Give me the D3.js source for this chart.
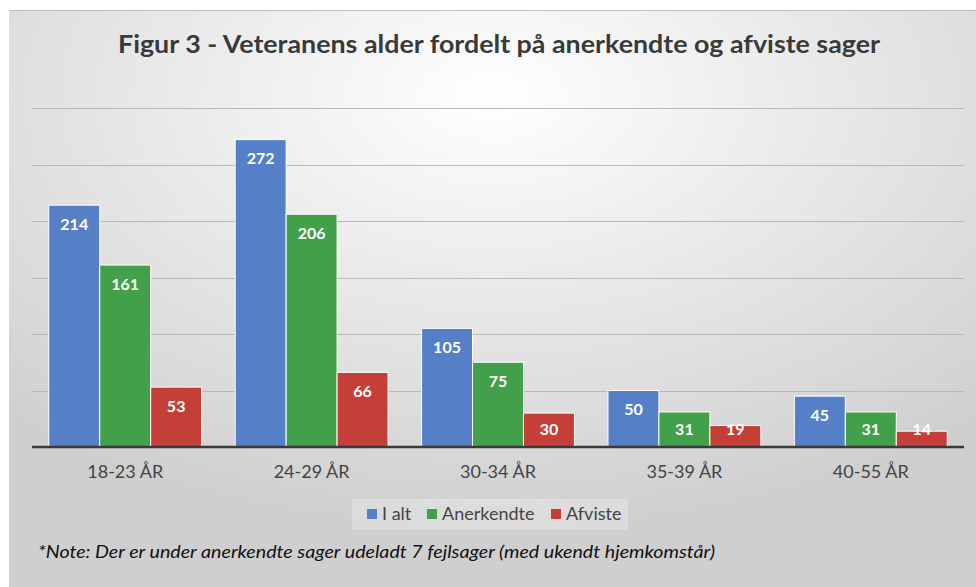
<!DOCTYPE html>
<html>
<head>
<meta charset="utf-8">
<script src="https://cdn.jsdelivr.net/npm/d3@7"></script>
<style>
  body { margin: 0; background: #fff; }
  svg { display: block; font-family: Lato, "Open Sans", sans-serif; }
</style>
</head>
<body>
<div id="chart"></div>
<script>
// data
var ageGroups = ["18-23 ÅR", "24-29 ÅR", "30-34 ÅR", "35-39 ÅR", "40-55 ÅR"];
var seriesNames = ["I alt", "Anerkendte", "Afviste"];
var iAlt = [214, 272, 105, 50, 45];
var anerkendte = [161, 206, 75, 31, 31];
var afviste = [53, 66, 30, 19, 14];
var gridTicks = [0, 50, 100, 150, 200, 250, 300];

var colors = ["#5580c8", "#42a04a", "#c43f38"];

var width = 976, height = 587;
var margin = {left: 32, right: 12, top: 108, bottom: 140};

var svg = d3.select("#chart").append("svg")
    .attr("width", width)
    .attr("height", height);

var defs = svg.append("defs");
var grad = defs.append("radialGradient")
    .attr("id", "bg")
    .attr("cx", "50%").attr("cy", "15%").attr("r", "75%");
grad.append("stop").attr("offset", "0%").attr("stop-color", "#ffffff");
grad.append("stop").attr("offset", "100%").attr("stop-color", "#cfcfcf");

svg.append("rect")
    .attr("x", 9).attr("y", 10)
    .attr("width", width - 9).attr("height", height - 10)
    .attr("fill", "url(#bg)");
svg.append("line")
    .attr("x1", 9).attr("x2", width).attr("y1", 10.5).attr("y2", 10.5)
    .attr("stroke", "#bdbdbd");

var x0 = d3.scaleBand()
    .domain(ageGroups)
    .range([margin.left, width - margin.right])
    .paddingInner(0.18).paddingOuter(0.09);

var x1 = d3.scaleBand()
    .domain(seriesNames)
    .range([0, x0.bandwidth()]);

var y = d3.scaleLinear()
    .domain([0, 300])
    .range([447, 108]);

// gridlines
svg.append("g")
  .selectAll("line")
  .data(gridTicks.slice(1))
  .join("line")
    .attr("x1", margin.left)
    .attr("x2", width - margin.right)
    .attr("y1", d => Math.round(y(d)) + 0.5)
    .attr("y2", d => Math.round(y(d)) + 0.5)
    .attr("stroke", "#b8b8b8")
    .attr("stroke-width", 1);

var rows = ageGroups.map((g, i) => ({
  group: g,
  values: [iAlt[i], anerkendte[i], afviste[i]]
}));

var groups = svg.append("g")
  .selectAll("g")
  .data(rows)
  .join("g")
    .attr("transform", d => "translate(" + x0(d.group) + ",0)");

groups.selectAll("rect")
  .data(d => d.values.map((v, j) => ({name: seriesNames[j], value: v, j: j})))
  .join("rect")
    .attr("x", d => x1(d.name))
    .attr("y", d => y(d.value))
    .attr("width", x1.bandwidth())
    .attr("height", d => y(0) - y(d.value))
    .attr("fill", d => colors[d.j])
    .attr("stroke", "#ffffff")
    .attr("stroke-width", 1);

groups.selectAll("text")
  .data(d => d.values.map((v, j) => ({name: seriesNames[j], value: v})))
  .join("text")
    .attr("x", d => x1(d.name) + x1.bandwidth() / 2)
    .attr("y", d => Math.min(y(d.value) + 19, 429))
    .attr("dy", "0.35em")
    .attr("text-anchor", "middle")
    .attr("fill", "#ffffff")
    .attr("font-weight", "bold")
    .attr("font-size", 16)
    .text(d => d.value);

// baseline axis
var xAxis = d3.axisBottom(x0).tickSize(0).tickPadding(18);
var axisG = svg.append("g")
    .attr("transform", "translate(0," + y(0) + ")")
    .call(xAxis);
axisG.select(".domain")
    .attr("stroke", "#3a3a3a")
    .attr("stroke-width", 2.5)
    .attr("d", "M" + margin.left + ",0H" + (width - margin.right));
axisG.selectAll("text")
    .attr("font-size", 18)
    .attr("font-family", "Lato, sans-serif")
    .attr("fill", "#444");

// title
svg.append("text")
    .attr("x", 499)
    .attr("y", 53)
    .attr("text-anchor", "middle")
    .attr("font-size", 25)
    .attr("font-weight", "bold")
    .attr("fill", "#3a3a3a")
    .attr("textLength", 762)
    .attr("lengthAdjust", "spacingAndGlyphs")
    .text("Figur 3 - Veteranens alder fordelt på anerkendte og afviste sager");

// legend
var legend = svg.append("g");
legend.append("rect")
    .attr("x", 352).attr("y", 499)
    .attr("width", 276).attr("height", 31)
    .attr("fill", "#ffffff").attr("fill-opacity", 0.25);
var legendX = [367, 427, 551];
var item = legend.selectAll("g")
  .data(seriesNames)
  .join("g")
    .attr("transform", (d, i) => "translate(" + legendX[i] + ",514)");
item.append("rect")
    .attr("x", 0).attr("y", -5)
    .attr("width", 10).attr("height", 10)
    .attr("fill", (d, i) => colors[i]);
item.append("text")
    .attr("x", 15)
    .attr("dy", "0.35em")
    .attr("font-size", 18)
    .attr("fill", "#444")
    .text(d => d);

// note
svg.append("text")
    .attr("x", 38)
    .attr("y", 558)
    .attr("font-size", 18)
    .attr("font-style", "italic")
    .attr("fill", "#111")
    .attr("textLength", 677)
    .attr("lengthAdjust", "spacingAndGlyphs")
    .text("*Note: Der er under anerkendte sager udeladt 7 fejlsager (med ukendt hjemkomstår)");
</script>
</body>
</html>
